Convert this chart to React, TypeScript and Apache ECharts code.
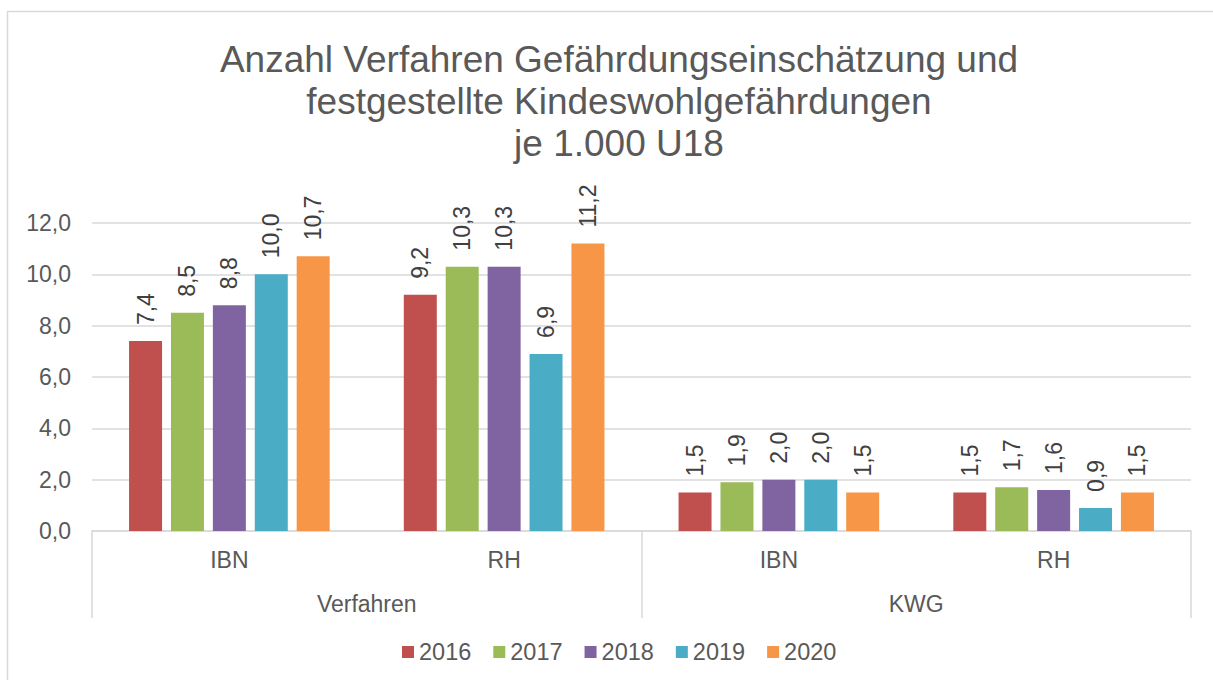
import React, { useEffect, useRef } from "react";
import * as echarts from "echarts";

const categories = ["IBN", "RH", "IBN", "RH"];
const groups = ["Verfahren", "KWG"];
const years = ["2016", "2017", "2018", "2019", "2020"];
const values2016 = [7.4, 9.2, 1.5, 1.5];
const values2017 = [8.5, 10.3, 1.9, 1.7];
const values2018 = [8.8, 10.3, 2.0, 1.6];
const values2019 = [10.0, 6.9, 2.0, 0.9];
const values2020 = [10.7, 11.2, 1.5, 1.5];
const seriesValues = [values2016, values2017, values2018, values2019, values2020];
const colors = ["#C0504D", "#9BBB59", "#8064A2", "#4BACC6", "#F79646"];
const titleText = "Anzahl Verfahren Gefährdungseinschätzung und\nfestgestellte Kindeswohlgefährdungen\nje 1.000 U18";

const FONT = "'Liberation Sans', Arial, sans-serif";
const fmt = (v: number) => v.toFixed(1).replace(".", ",");

export default function App() {
  const ref = useRef<HTMLDivElement>(null);
  useEffect(() => {
    if (!ref.current) return;
    const chart = echarts.init(ref.current, null, { renderer: "svg" });
    chart.setOption({
      animation: false,
      backgroundColor: "#ffffff",
      textStyle: { fontFamily: FONT },
      title: {
        text: titleText,
        left: 614,
        top: 33,
        textAlign: "center",
        textStyle: {
          fontFamily: FONT,
          fontSize: 37,
          lineHeight: 42,
          fontWeight: "normal",
          color: "#595959",
        },
      },
      graphic: [
        {
          type: "rect",
          shape: { x: 7.5, y: 11.5, width: 1300, height: 1000 },
          style: { fill: "none", stroke: "#D9D9D9", lineWidth: 1.5 },
          silent: true,
        },
      ],
      legend: {
        data: years,
        left: 402,
        top: 640,
        padding: 0,
        itemWidth: 12,
        itemHeight: 12,
        itemGap: 22,
        icon: "rect",
        textStyle: { fontFamily: FONT, fontSize: 23.5, color: "#595959" },
      },
      grid: { left: 92, right: 22, top: 223, bottom: 149 },
      xAxis: [
        {
          type: "category",
          data: categories,
          axisLine: { show: true, lineStyle: { color: "#D9D9D9", width: 1.5 } },
          axisTick: { show: false },
          axisLabel: { fontFamily: FONT, fontSize: 23, color: "#595959", margin: 17 },
        },
        {
          type: "category",
          data: groups,
          position: "bottom",
          axisLine: { show: false },
          axisTick: { show: true, length: 87, lineStyle: { color: "#D9D9D9", width: 1.5 } },
          axisLabel: { fontFamily: FONT, fontSize: 23, color: "#595959", margin: 61 },
          splitLine: { show: false },
        },
      ],
      yAxis: {
        type: "value",
        min: 0,
        max: 12,
        interval: 2,
        axisLine: { show: false },
        axisTick: { show: false },
        axisLabel: {
          fontFamily: FONT,
          fontSize: 23,
          color: "#595959",
          margin: 21,
          formatter: (v: number) => fmt(v),
        },
        splitLine: { lineStyle: { color: "#D9D9D9", width: 1.5 } },
      },
      series: years.map((y, i) => ({
        name: y,
        type: "bar",
        xAxisIndex: 0,
        data: seriesValues[i],
        barWidth: 33,
        barGap: "27%",
        itemStyle: { color: colors[i] },
        label: {
          show: true,
          position: "top",
          rotate: 90,
          align: "left",
          verticalAlign: "middle",
          distance: 16,
          fontFamily: FONT,
          fontSize: 23,
          color: "#404040",
          formatter: (p: any) => fmt(p.value),
        },
      })),
    });
    return () => chart.dispose();
  }, []);
  return (
    <div
      ref={ref}
      style={{ position: "fixed", left: 0, top: 0, width: 1213, height: 680 }}
    />
  );
}
